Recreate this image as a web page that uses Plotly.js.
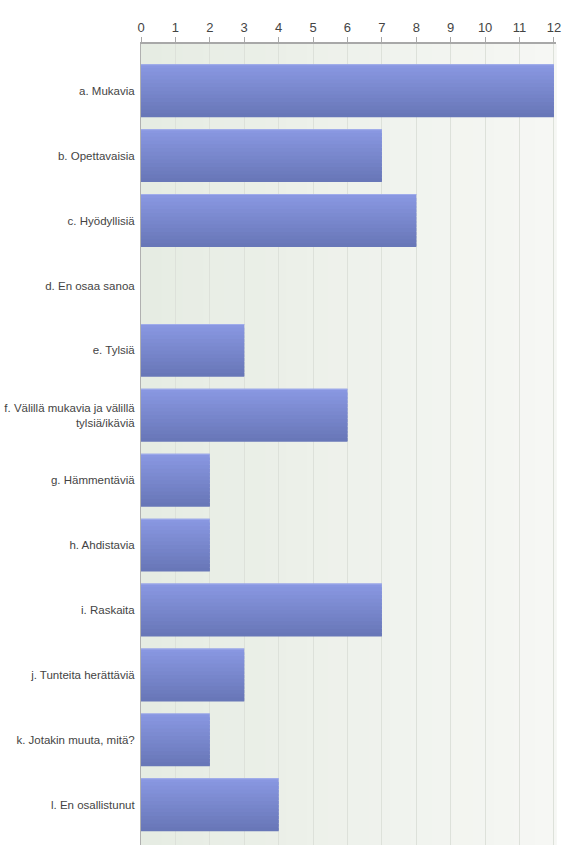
<!DOCTYPE html>
<html><head><meta charset="utf-8">
<script src="https://cdn.plot.ly/plotly-3.0.1.min.js"></script>
<style>html,body{margin:0;padding:0;background:#fff}#chart{width:562px;height:845px}</style>
</head><body><div id="chart"></div>
<script>
var categories = ["a. Mukavia","b. Opettavaisia","c. Hyödyllisiä","d. En osaa sanoa","e. Tylsiä","f. Välillä mukavia ja välillä<br>tylsiä/ikäviä","g. Hämmentäviä","h. Ahdistavia","i. Raskaita","j. Tunteita herättäviä","k. Jotakin muuta, mitä?","l. En osallistunut"];
var counts = [12,7,8,0,3,6,2,2,7,3,2,4];
var tickValues = [0,1,2,3,4,5,6,7,8,9,10,11,12];

function lerp(a,b,t){return Math.round(a+(b-a)*t);}
function mix(c1,c2,t){return 'rgb('+lerp(c1[0],c2[0],t)+','+lerp(c1[1],c2[1],t)+','+lerp(c1[2],c2[2],t)+')';}

var N = 14, full = 0.815, w = full/N;
var barTop = [137,151,225], barBot = [104,119,184];
var traces = [];
for (var i=0;i<N;i++){
  traces.push({
    type:'bar', orientation:'h', y:categories, x:counts,
    width: (i===N-1) ? w : w*1.8, offset: -full/2 + i*w,
    marker:{color: mix(barTop,barBot,i/(N-1)), line:{width:0}},
    hoverinfo:'skip', showlegend:false
  });
}
traces.push({type:'bar',orientation:'h',y:categories,x:counts,width:0.015,offset:-full/2,
  marker:{color:'rgb(160,172,235)',line:{width:0}},hoverinfo:'skip',showlegend:false});

var shapes = [];
var M = 20, bgL=[230,236,227], bgR=[246,247,244];
for (var j=0;j<M;j++){
  shapes.push({type:'rect',xref:'paper',yref:'paper',x0:j/M,x1:(j+1)/M+0.002,y0:0,y1:1,
    fillcolor:mix(bgL,bgR,j/(M-1)),line:{width:0},layer:'below'});
}

var layout = {
  width:562, height:845,
  margin:{l:141,r:6,t:44,b:0},
  paper_bgcolor:'#ffffff', plot_bgcolor:'#eef1ec',
  barmode:'overlay',
  font:{family:'"Liberation Sans",Arial,sans-serif',size:12,color:'#444'},
  xaxis:{side:'top',range:[0,12.06],tickvals:tickValues,ticktext:tickValues.map(String),
    showgrid:true,gridcolor:'#dde1da',gridwidth:1,zeroline:false,
    showline:true,linecolor:'#a8a8a8',linewidth:2,ticks:'outside',ticklen:5,tickcolor:'#a8a8a8',
    tickfont:{size:13,color:'#444'},fixedrange:true},
  yaxis:{type:'category',categoryorder:'array',categoryarray:categories,range:[11.62,-0.72],
    showgrid:false,zeroline:false,showline:true,linecolor:'#b0b0b0',linewidth:1,
    ticks:'',ticklabelstandoff:3,tickfont:{size:11.5,color:'#444'},fixedrange:true},
  shapes:shapes
};
Plotly.newPlot('chart',traces,layout,{displayModeBar:false,staticPlot:true});
</script></body></html>
